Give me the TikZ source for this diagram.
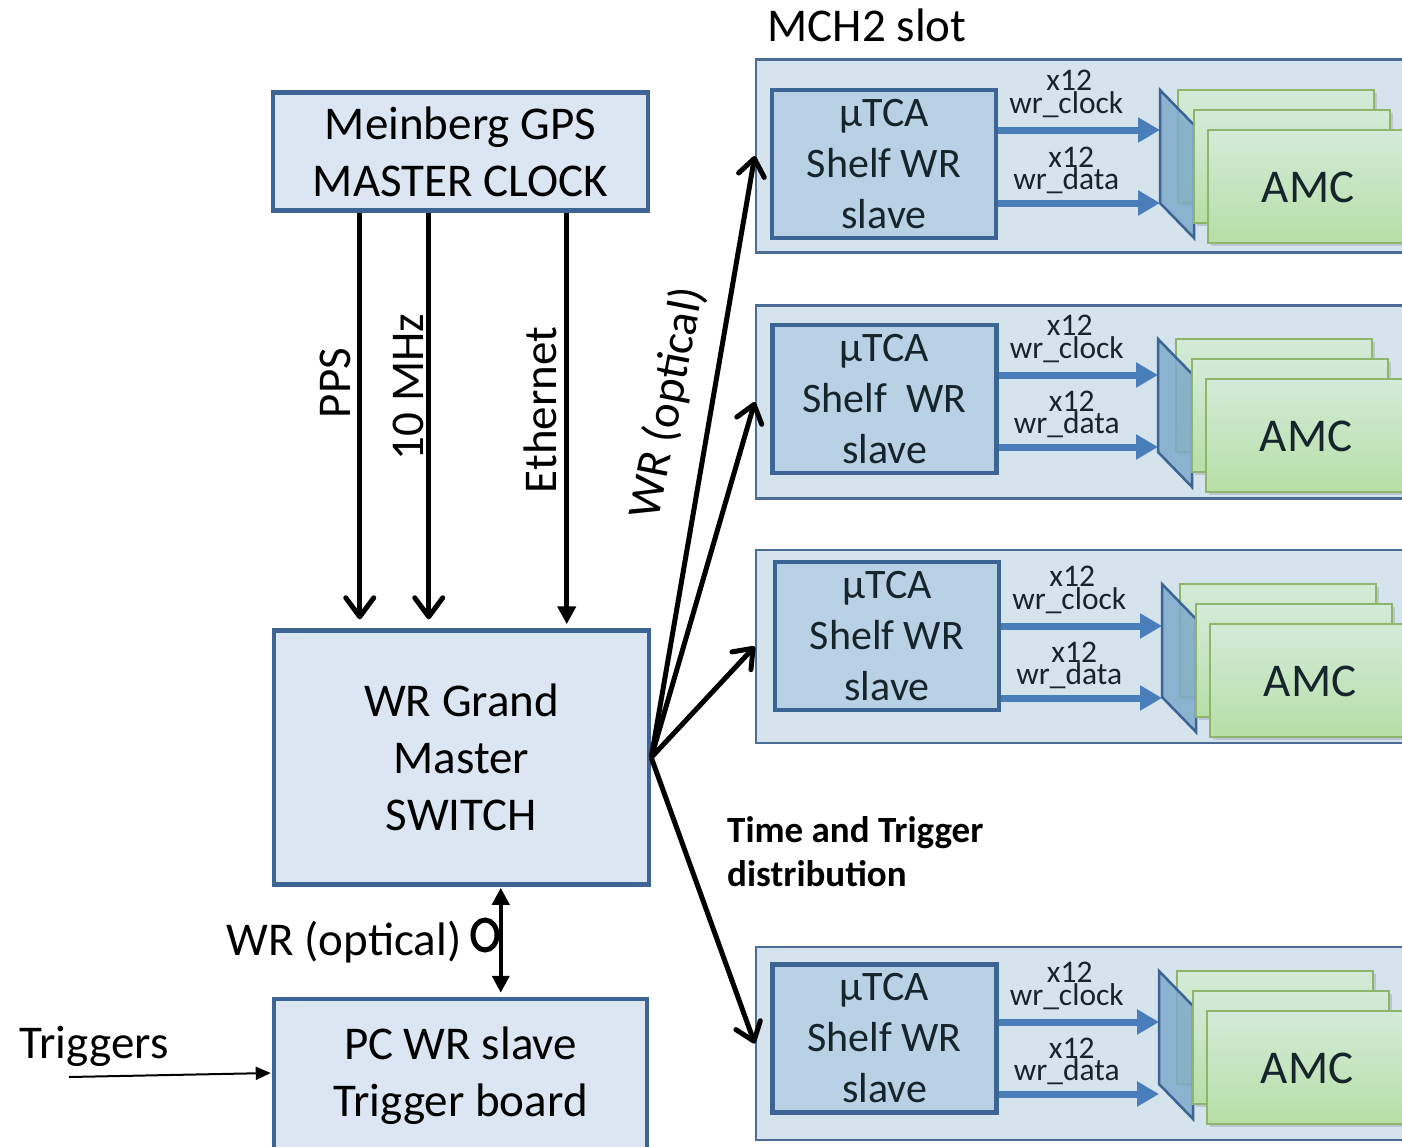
\documentclass[tikz,border=0pt]{standalone}
\usepackage{fontspec}
\setmainfont{Carlito}
\usetikzlibrary{arrows.meta,calc,shapes.geometric}

\definecolor{boxfill}{HTML}{DCE6F2}
\definecolor{boxline}{HTML}{3C6494}
\definecolor{panelfill}{HTML}{D4E3EC}
\definecolor{panelline}{HTML}{4A6C97}
\definecolor{slavefill}{HTML}{B9D1E4}
\definecolor{busblue}{HTML}{4A7EBB}
\definecolor{planefill}{HTML}{7FAACB}
\definecolor{cardtop}{HTML}{D3EBD9}
\definecolor{cardbot}{HTML}{B6DFA6}
\definecolor{cardline}{HTML}{8DB66C}
\definecolor{paneltext}{HTML}{16242C}

\tikzset{
  mainbox/.style={draw=boxline, line width=4.5pt, fill=boxfill, align=center,
    inner sep=0pt, font=\fontsize{47}{57}\selectfont, text=black},
  panel/.style={draw=panelline, line width=2.5pt, fill=panelfill,
    minimum width=664pt, minimum height=193pt, inner sep=0pt},
  slavebox/.style={draw=boxline, line width=4.5pt, fill=slavefill,
    minimum width=224pt, minimum height=148pt, align=center, inner sep=0pt,
    font=\fontsize{42}{51}\selectfont, text=paneltext},
  biglabel/.style={font=\fontsize{47}{57}\selectfont, text=black, inner sep=0pt},
  buslabel/.style={font=\fontsize{31.5}{37}\selectfont, text=paneltext, inner sep=0pt},
  sig/.style={line width=5pt, -{Straight Barb[length=19pt,width=28pt,round]}},
  sigtri/.style={line width=5pt, -{Triangle[length=18pt,width=18pt]}},
  fan/.style={line width=5pt, -{Straight Barb[length=17pt,width=26pt,round]}},
  duplex/.style={line width=4pt, {Triangle[length=17pt,width=17pt]}-{Triangle[length=17pt,width=17pt]}},
  trig/.style={line width=2pt, -{Triangle[length=15pt,width=13pt]}},
  bus/.style={draw=busblue, line width=7pt, -{Triangle[length=22pt,width=24pt]}},
  plane/.style={draw=boxline, line width=2.5pt, fill=planefill, fill opacity=0.85},
  card/.style={draw=cardline, line width=2.5pt, top color=cardtop, bottom color=cardbot},
  cardshadow/.style={fill=black, opacity=0.12},
}

\begin{document}
\begin{tikzpicture}[x=1pt,y=-1pt]
\useasboundingbox (0,0) rectangle (1402,1146);

% ---------- left column ----------
\node[mainbox, minimum width=375pt, minimum height=118pt] (mb) at (460.5,151.5)
  {Meinberg GPS\\MASTER CLOCK};
\node[mainbox, minimum width=375pt, minimum height=254pt] (sw) at (461.5,757.5)
  {WR Grand\\Master\\SWITCH};
\node[mainbox, minimum width=373pt, minimum height=154pt] (pc) at (460.5,1076)
  {PC WR slave\\Trigger board};

% clock and network links from the GPS master
\draw[sig] ($(mb.south west)+(89,0)$) -- ($(sw.north west)+(88,-9)$);
\draw[sig] ($(mb.south west)+(158,0)$) -- ($(sw.north west)+(157,-9)$);
\draw[sigtri] ($(mb.south west)+(296,0)$) -- ($(sw.north west)+(295,-4)$);

\node[biglabel, rotate=90] (lpps) at (335,383) {PPS};
\node[biglabel, rotate=90] (l10m) at (408,387) {10 MHz};
\node[biglabel, rotate=90] (leth) at (540,410) {Ethernet};

% optical link to the trigger PC
\draw[duplex] ($(sw.south west)+(229,1)$) -- ($(pc.north west)+(229,-4)$);
\node[draw, ellipse, line width=5pt, minimum width=24pt, minimum height=30pt,
  inner sep=0pt] (fiber) at (485,935) {};
\node[biglabel] (lwrb) at (344,942) {WR (optical)};

% trigger input
\coordinate (trigsrc) at (69,1077);
\node[biglabel] (ltrig) at (94,1046) {Triggers};
\draw[trig] (trigsrc) -- ($(pc.west)+(-1,-3)$);

% ---------- crate panels ----------
\node[biglabel] (lmch) at (867,25) {MCH2 slot};

\foreach \k/\pc/\sx/\sy/\tx/\ty/\ya/\yb/\shelf in {%
  1/156/884/164/1160/90/130/203/{Shelf WR},
  2/402/884.5/399/1158/339/375/447/{Shelf\ \ WR},
  3/646.5/887/636/1162/584/626/698/{Shelf WR},
  4/1043.5/884.5/1038.5/1159/971/1022/1094/{Shelf WR}}{
  \node[panel] (panel\k) at (1088,\pc) {};
  \node[slavebox] (slave\k) at (\sx,\sy) {µTCA\\\shelf\\slave};
  % AMC cards behind the backplane connector
  \fill[cardshadow] (\tx+21,\ty+3) rectangle (\tx+217,\ty+116);
  \draw[card] (\tx+18,\ty) rectangle (\tx+214,\ty+113);
  \draw[plane] (\tx,\ty) -- (\tx+34,\ty+35) -- (\tx+34,\ty+148)
    -- (\tx,\ty+113) -- cycle;
  \fill[cardshadow] (\tx+37,\ty+23) rectangle (\tx+233,\ty+136);
  \draw[card] (\tx+34,\ty+20) rectangle (\tx+230,\ty+133);
  \fill[cardshadow] (\tx+51,\ty+43) rectangle (\tx+270,\ty+156);
  \draw[card] (\tx+48,\ty+40) rectangle (\tx+268,\ty+153);
  \node[font=\fontsize{47}{57}\selectfont, text=paneltext, inner sep=0pt]
    (amc\k) at (\tx+148,\ty+97) {AMC};
  % clock and data buses
  \coordinate (clk\k) at (\tx,\ya);
  \coordinate (dat\k) at (\tx,\yb);
  \draw[bus] (slave\k.east |- clk\k) -- (clk\k);
  \draw[bus] (slave\k.east |- dat\k) -- (dat\k);
  \node[buslabel] (xa\k) at ($(slave\k.east |- clk\k)+(71,-50)$) {x12};
  \node[buslabel] (wc\k) at ($(slave\k.east |- clk\k)+(68,-25)$) {wr\_clock};
  \node[buslabel] (xb\k) at ($(slave\k.east |- dat\k)+(73,-46)$) {x12};
  \node[buslabel] (wd\k) at ($(slave\k.east |- dat\k)+(68,-22)$) {wr\_data};
}

% ---------- distribution from the grand master ----------
\foreach \k in {1,2,3,4}{
  \draw[fan] (sw.east) -- (panel\k.west);
}
\node[biglabel, rotate=79] (lwr) at (668,403) {WR (optical)};
\node[font=\bfseries\fontsize{37}{44}\selectfont, align=left, anchor=west,
  inner sep=0pt] (ltt) at (727,852) {Time and Trigger\\distribution};

\end{tikzpicture}
\end{document}
